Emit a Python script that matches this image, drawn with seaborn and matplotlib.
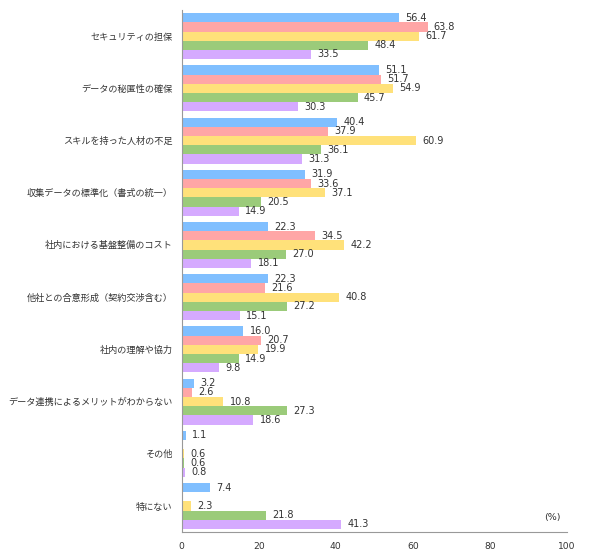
import matplotlib
matplotlib.use("Agg")
import matplotlib.pyplot as plt
import numpy as np
import pandas as pd
import seaborn as sns

categories = [
    "セキュリティの担保",
    "データの秘匿性の確保",
    "スキルを持った人材の不足",
    "収集データの標準化（書式の統一）",
    "社内における基盤整備のコスト",
    "他社との合意形成（契約交渉含む）",
    "社内の理解や協力",
    "データ連携によるメリットがわからない",
    "その他",
    "特にない",
]
series_names = ["系列1", "系列2", "系列3", "系列4", "系列5"]
s1 = [56.4, 51.1, 40.4, 31.9, 22.3, 22.3, 16.0, 3.2, 1.1, 7.4]
s2 = [63.8, 51.7, 37.9, 33.6, 34.5, 21.6, 20.7, 2.6, np.nan, np.nan]
s3 = [61.7, 54.9, 60.9, 37.1, 42.2, 40.8, 19.9, 10.8, 0.6, 2.3]
s4 = [48.4, 45.7, 36.1, 20.5, 27.0, 27.2, 14.9, 27.3, 0.6, 21.8]
s5 = [33.5, 30.3, 31.3, 14.9, 18.1, 15.1, 9.8, 18.6, 0.8, 41.3]
colors = ["#80BFFF", "#FFA6A6", "#FFE17A", "#9BCB7A", "#D5AAFF"]

sns.set_style("white")
plt.rcParams["font.family"] = ["DejaVu Sans", "Noto Sans CJK JP"]

rows = []
for name, vals in zip(series_names, [s1, s2, s3, s4, s5]):
    for cat, v in zip(categories, vals):
        rows.append({"category": cat, "series": name, "value": v})
df = pd.DataFrame(rows).dropna()

fig = plt.figure(figsize=(5.9, 5.56), dpi=100)
ax = fig.add_axes([0.308, 0.043, 0.653, 0.939])

sns.barplot(data=df, y="category", x="value", hue="series", order=categories,
            hue_order=series_names, palette=colors, orient="h", width=0.88,
            saturation=1, legend=False, ax=ax, errorbar=None, linewidth=0)

for cont in ax.containers:
    ax.bar_label(cont, fmt="%.1f", padding=4.5, fontsize=7, color="#333333")

ax.set_xlim(0, 100)
ax.set_ylim(len(categories) - 0.5, -0.5)
ax.set_xticks(range(0, 101, 20))
ax.set_xlabel("")
ax.set_ylabel("")
ax.set_yticks(range(len(categories)))
ax.set_yticklabels(categories, family=["Noto Sans CJK JP", "DejaVu Sans"])
ax.set_yticks(np.arange(-0.5, len(categories), 1), minor=True)
ax.tick_params(axis="y", which="major", length=0, pad=6.5, labelsize=6.6, labelcolor="#333333")
ax.tick_params(axis="y", which="minor", length=4, color="#999999", direction="out")
ax.tick_params(axis="x", length=4, direction="in", color="#999999", labelsize=6.6,
               labelcolor="#333333", pad=7)

for side in ["top", "right"]:
    ax.spines[side].set_visible(False)
for side in ["left", "bottom"]:
    ax.spines[side].set_color("#999999")
    ax.spines[side].set_linewidth(0.8)

ax.text(0.962, 0.028, "(%)", transform=ax.transAxes, fontsize=6.8, color="#333333",
        ha="center", va="center")

fig.savefig("out.png", dpi=100)
